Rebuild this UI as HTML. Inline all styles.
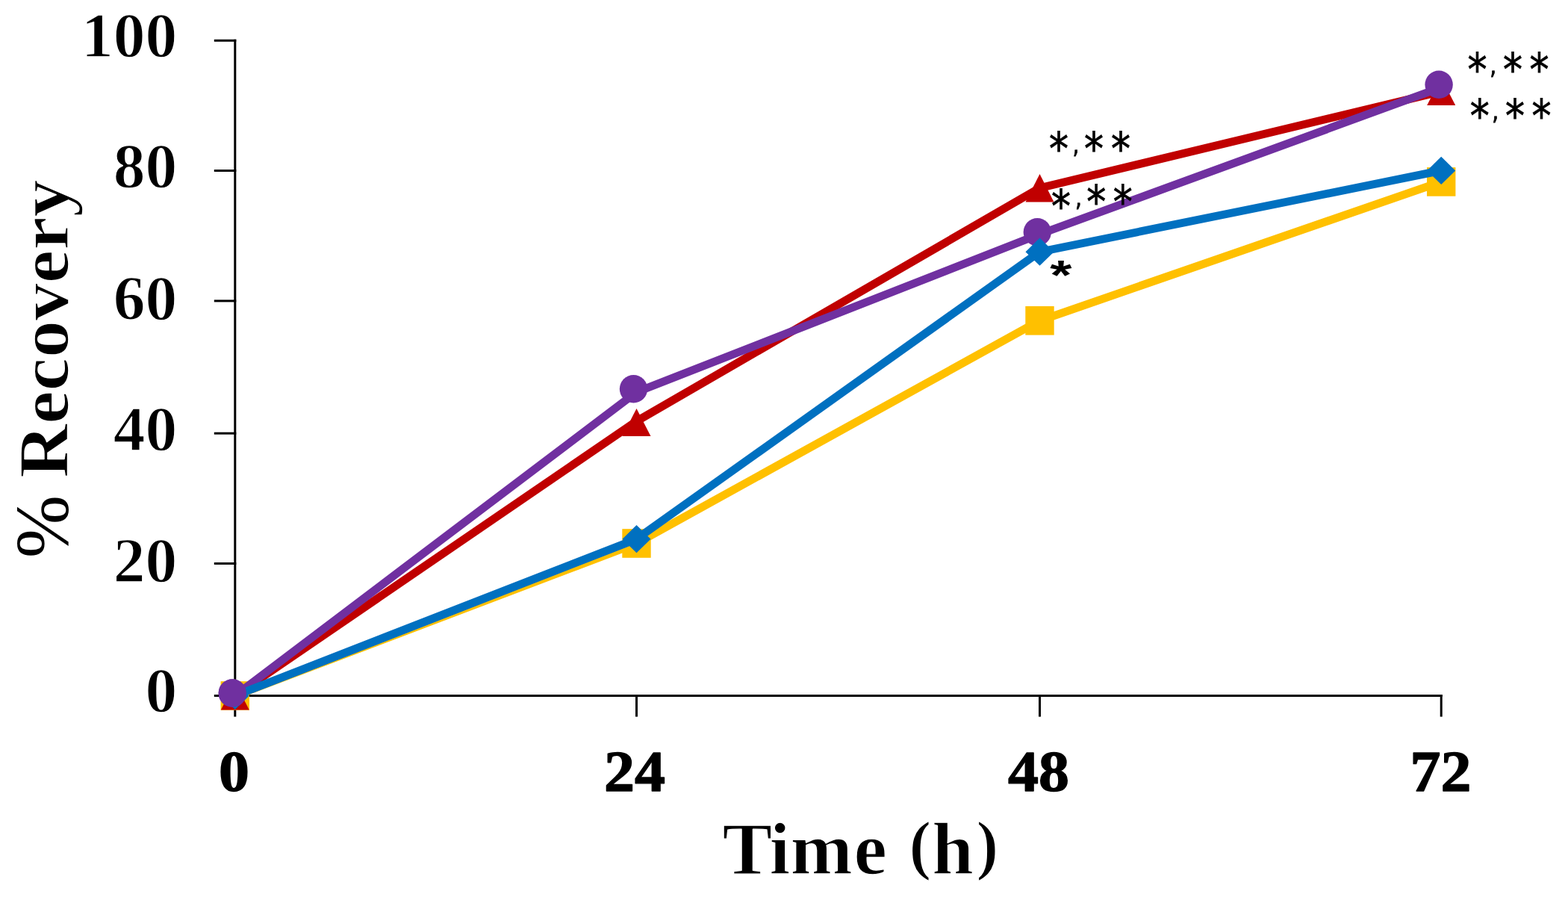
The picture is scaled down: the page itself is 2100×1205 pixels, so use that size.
<!DOCTYPE html>
<html><head><meta charset="utf-8"><title>% Recovery vs Time</title>
<style>
html,body{margin:0;padding:0;background:#fff;overflow:hidden;}
svg{display:block;}
.lab{font-family:"Liberation Serif",serif;font-weight:bold;fill:#000;}
.ast{font-family:"DejaVu Sans",sans-serif;fill:#000;stroke:#000;stroke-width:0.7px;}
.ast1{font-family:"Liberation Sans",sans-serif;font-weight:bold;fill:#000;}
</style></head>
<body>
<svg width="2100" height="1205" viewBox="0 0 2100 1205">
<rect width="2100" height="1205" fill="#fff"/>
<g stroke="#000" stroke-width="3" fill="none">
<line x1="314.8" y1="52.8" x2="314.8" y2="933"/>
<line x1="313.3" y1="931.5" x2="1931.7" y2="931.5"/>
<line x1="286.8" y1="54.3" x2="316.3" y2="54.3"/>
<line x1="286.8" y1="228.5" x2="316.3" y2="228.5"/>
<line x1="286.8" y1="402.9" x2="316.3" y2="402.9"/>
<line x1="286.8" y1="580.2" x2="316.3" y2="580.2"/>
<line x1="286.8" y1="754.5" x2="316.3" y2="754.5"/>
<line x1="286.8" y1="931.5" x2="316.3" y2="931.5"/>
<line x1="314.8" y1="930" x2="314.8" y2="959.6"/>
<line x1="852.5" y1="930" x2="852.5" y2="959.6"/>
<line x1="1392.5" y1="930" x2="1392.5" y2="959.6"/>
<line x1="1930.2" y1="930" x2="1930.2" y2="959.6"/>
</g>
<g class="lab" font-size="85.5" stroke="#fff" stroke-width="1.4" stroke-linejoin="round">
<text x="237.3" y="76.0" text-anchor="end">100</text>
<text x="237.3" y="250.9" text-anchor="end">80</text>
<text x="237.3" y="427.8" text-anchor="end">60</text>
<text x="237.3" y="603.2" text-anchor="end">40</text>
<text x="237.3" y="779.4" text-anchor="end">20</text>
<text x="237.3" y="953.0" text-anchor="end">0</text>
</g>
<g class="lab" font-size="78" stroke="#000" stroke-width="1.4" stroke-linejoin="round">
<text transform="translate(313.5,1059.4) scale(1.05,1)" text-anchor="middle">0</text>
<text transform="translate(850.0,1059.4) scale(1.05,1)" text-anchor="middle">24</text>
<text transform="translate(1391.0,1059.4) scale(1.05,1)" text-anchor="middle">48</text>
<text transform="translate(1929.5,1059.4) scale(1.05,1)" text-anchor="middle">72</text>
</g>
<text class="lab" font-size="100" y="1169.5" x="967.6 1030.4 1058.4 1143.6" stroke="#fff" stroke-width="1.4" stroke-linejoin="round">Time <tspan font-size="89" x="1217.4" y="1161.1">(</tspan><tspan x="1248.3" y="1169.5">h</tspan><tspan font-size="89" x="1307.4" y="1161.1">)</tspan></text>
<text class="lab" font-size="96" transform="translate(91.1,0) rotate(-90)"><tspan x="-747.3" style="font-weight:normal" font-size="101">%</tspan> <tspan x="-640" textLength="399.5" lengthAdjust="spacingAndGlyphs" stroke="#fff" stroke-width="1.6" stroke-linejoin="round">Recovery</tspan></text>
<polyline points="314.8,931.5 852.5,727.5 1392.5,429.3 1930.2,243.4" fill="none" stroke="#FFC000" stroke-width="10.8" stroke-linejoin="round" stroke-linecap="round"/>
<rect x="295.6" y="912.2" width="38.4" height="38.6" fill="#FFC000"/>
<rect x="833.3" y="708.2" width="38.4" height="38.6" fill="#FFC000"/>
<rect x="1373.3" y="410.0" width="38.4" height="38.6" fill="#FFC000"/>
<rect x="1911.0" y="224.1" width="38.4" height="38.6" fill="#FFC000"/>
<polyline points="314.8,931.5 852.5,564.0 1392.5,251.7 1930.2,122.4" fill="none" stroke="#C00000" stroke-width="10.8" stroke-linejoin="round" stroke-linecap="round"/>
<polygon points="314.8,913.6 333.8,950.6 295.8,950.6" fill="#C00000"/>
<polygon points="852.5,547.0 871.5,584.0 833.5,584.0" fill="#C00000"/>
<polygon points="1392.5,233.1 1411.5,270.4 1373.5,270.4" fill="#C00000"/>
<polygon points="1930.2,104.0 1949.2,141.0 1911.2,141.0" fill="#C00000"/>
<polyline points="314.8,931.5 852.5,525.0 1392.5,313.5 1930.2,117.0" fill="none" stroke="#7030A0" stroke-width="10.8" stroke-linejoin="round" stroke-linecap="round"/>
<circle cx="311.3" cy="928.0" r="18.7" fill="#7030A0"/>
<circle cx="848.5" cy="520.8" r="18.7" fill="#7030A0"/>
<circle cx="1389.3" cy="310.8" r="18.7" fill="#7030A0"/>
<circle cx="1927.1" cy="113.3" r="18.7" fill="#7030A0"/>
<polyline points="314.8,931.5 852.5,721.7 1392.5,337.2 1930.2,228.4" fill="none" stroke="#0070C0" stroke-width="10.8" stroke-linejoin="round" stroke-linecap="round"/>
<polygon points="314.8,912.9 333.8,931.5 314.8,950.1 295.8,931.5" fill="#0070C0"/>
<polygon points="852.5,703.1 871.5,721.7 852.5,740.3 833.5,721.7" fill="#0070C0"/>
<polygon points="1392.5,318.6 1411.5,337.2 1392.5,355.8 1373.5,337.2" fill="#0070C0"/>
<polygon points="1930.2,209.8 1949.2,228.4 1930.2,247.0 1911.2,228.4" fill="#0070C0"/>
<circle cx="311.3" cy="928.0" r="18.7" fill="#7030A0"/>
<text class="ast" font-size="52" transform="translate(0,220.1) scale(1,1.18)"><tspan x="1405.0" y="0.0">*</tspan><tspan x="1436.6" y="-12.6" font-size="28">,</tspan><tspan x="1452.1" y="0.0">*</tspan><tspan x="1487.9" y="0.0">*</tspan></text>
<text class="ast" font-size="52" transform="translate(0,297.1) scale(1,1.18)"><tspan x="1407.9" y="0.0">*</tspan><tspan x="1440.0" y="-17.5" font-size="28">,</tspan><tspan x="1455.3" y="-4.8">*</tspan><tspan x="1490.7" y="-5.1">*</tspan></text>
<text class="ast1" font-size="75" transform="translate(0,386.5) scale(1,0.739)"><tspan x="1406.2">*</tspan></text>
<text class="ast" font-size="52" transform="translate(0,114.0) scale(1,1.18)"><tspan x="1965.5" y="0.0">*</tspan><tspan x="1995.3" y="-12.9" font-size="28">,</tspan><tspan x="2012.9" y="0.0">*</tspan><tspan x="2048.4" y="0.0">*</tspan></text>
<text class="ast" font-size="52" transform="translate(0,175.7) scale(1,1.18)"><tspan x="1968.7" y="0.0">*</tspan><tspan x="1998.3" y="-12.9" font-size="28">,</tspan><tspan x="2016.0" y="0.0">*</tspan><tspan x="2051.5" y="0.0">*</tspan></text>
</svg>
</body></html>
